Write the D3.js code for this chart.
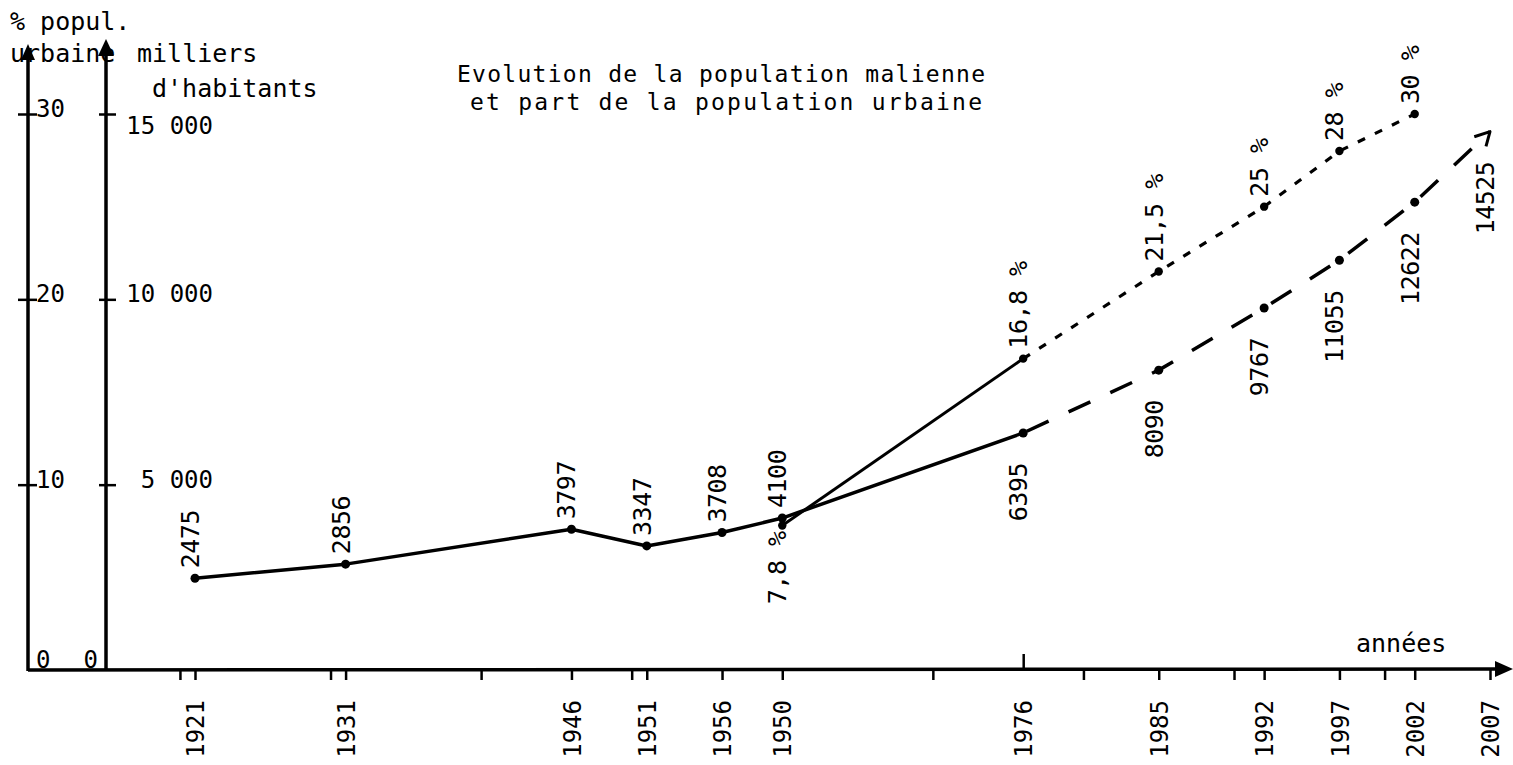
<!DOCTYPE html>
<html><head><meta charset="utf-8">
<script src="https://cdn.jsdelivr.net/npm/d3@7"></script>
<style>
html,body{margin:0;padding:0;background:#fff;}
svg{display:block;}
text{font-family:"DejaVu Sans Mono","Liberation Mono",monospace;fill:#000;}
</style></head><body>
<svg id="chart" width="1513" height="765"></svg>
<script>
// ---------------- data ----------------
const years       = [1921, 1931, 1946, 1951, 1956, 1960, 1976, 1985, 1992, 1997, 2002, 2007];
const yearLabels  = ["1921","1931","1946","1951","1956","1950","1976","1985","1992","1997","2002","2007"];
const decadeTicks = [1920, 1930, 1940, 1950, 1960, 1970, 1980, 1990, 2000];
const population  = [2475, 2856, 3797, 3347, 3708, 4100, 6395, 8090, 9767, 11055, 12622, 14525]; // milliers d'habitants
const popLastObserved = 1976;
const urbanYears  = [1960, 1976, 1985, 1992, 1997, 2002];
const urbanShare  = [7.8, 16.8, 21.5, 25, 28, 30];   // % population urbaine
const urbanLabels = ["7,8 %", "16,8 %", "21,5 %", "25 %", "28 %", "30 %"];
const urbanLastObserved = 1976;
const popTicks      = [0, 5000, 10000, 15000];
const popTickLabels = ["0", "5 000", "10 000", "15 000"];
const pctTicks      = [0, 10, 20, 30];
const pctTickLabels = ["0", "10", "20", "30"];
const titleLines  = ["Evolution de la population malienne", "et part de la population urbaine"];

// ---------------- setup ----------------
const W = 1513, H = 765;
const svg = d3.select("#chart");
const x    = d3.scaleLinear().domain([1921, 2007]).range([195, 1490]);
const yPop = d3.scaleLinear().domain([0, 15000]).range([670, 114]);
const yPct = d3.scaleLinear().domain([0, 30]).range([670, 114]);
const axPct = 28, axPop = 106, base = yPop(0);

const defs = svg.append("defs");
defs.append("marker").attr("id","chev").attr("viewBox","-16 -10 20 20")
  .attr("markerUnits","userSpaceOnUse").attr("markerWidth",20).attr("markerHeight",20)
  .attr("refX",0).attr("refY",0).attr("orient","auto")
  .append("path").attr("d","M-15,-7 L0,0 L-13,8").attr("fill","none")
  .attr("stroke","#000").attr("stroke-width",3).attr("stroke-linejoin","round");

// ---------------- axes ----------------
// x axis (years)
const xTicks = Array.from(new Set(decadeTicks.concat(years))).sort((a,b)=>a-b);
const labelOf = new Map(years.map((y,i)=>[y, yearLabels[i]]));
const gx = svg.append("g").attr("transform",`translate(0,${base})`)
  .call(d3.axisBottom(x).tickValues(xTicks).tickSize(10).tickPadding(0)
        .tickFormat(d => labelOf.has(d) ? labelOf.get(d) : ""));
gx.select(".domain").remove();
gx.selectAll(".tick line").attr("stroke","#000").attr("stroke-width",2.5)
  .attr("y1", d => d === popLastObserved ? -16 : 0)
  .attr("y2", d => d === popLastObserved ? 0 : 10);
gx.selectAll(".tick text").attr("font-family",'"DejaVu Sans Mono",monospace')
  .attr("font-size",24).attr("fill","#000")
  .attr("text-anchor","end").attr("transform","translate(0,30) rotate(-90)")
  .attr("x",0).attr("y",0).attr("dy","0.36em");
svg.append("line").attr("x1",axPct).attr("x2",W-16).attr("y1",base).attr("y2",base-1)
  .attr("stroke","#000").attr("stroke-width",3.5);
svg.append("path").attr("d",`M${W},${base-1} L${W-18},${base-9} L${W-18},${base+7} Z`).attr("fill","#000");
svg.append("text").attr("x",1356).attr("y",652).attr("font-size",25).text("années");

// y axis: % population urbaine
const gPct = svg.append("g").attr("transform",`translate(${axPct},0)`)
  .call(d3.axisRight(yPct).tickValues(pctTicks).tickSize(8).tickFormat((d,i)=>pctTickLabels[i]));
gPct.select(".domain").remove();
gPct.selectAll(".tick line").attr("stroke","#000").attr("stroke-width",2.5)
  .attr("x1",-10).attr("x2",9).style("display", d => d === 0 ? "none" : null);
gPct.selectAll(".tick text").attr("font-family",'"DejaVu Sans Mono",monospace')
  .attr("font-size",24).attr("fill","#000").attr("x",8).attr("dy", d => d === 0 ? "-0.1em" : "0.1em");
svg.append("line").attr("x1",axPct).attr("x2",axPct).attr("y1",base+1).attr("y2",56)
  .attr("stroke","#000").attr("stroke-width",3.5);
svg.append("path").attr("d",`M${axPct},44 L${axPct-7},60 L${axPct+7},60 Z`).attr("fill","#000");

// y axis: milliers d'habitants
const gPop = svg.append("g").attr("transform",`translate(${axPop},0)`)
  .call(d3.axisRight(yPop).tickValues(popTicks).tickSize(8).tickFormat((d,i)=>popTickLabels[i]));
gPop.select(".domain").remove();
gPop.selectAll(".tick line").attr("stroke","#000").attr("stroke-width",2.5)
  .attr("x1",-7).attr("x2",10).style("display", d => d === 0 ? "none" : null);
gPop.selectAll(".tick text").attr("font-family",'"DejaVu Sans Mono",monospace')
  .attr("font-size",24).attr("fill","#000")
  .attr("text-anchor","end").attr("x", d => d === 0 ? -8 : 107)
  .attr("dy", d => d === 0 ? "-0.1em" : (d === 15000 ? "0.8em" : "0.1em"));
svg.append("line").attr("x1",axPop).attr("x2",axPop).attr("y1",base+1).attr("y2",52)
  .attr("stroke","#000").attr("stroke-width",3.5);
svg.append("path").attr("d",`M${axPop},39 L${axPop-8},56 L${axPop+8},56 Z`).attr("fill","#000");

// axis titles
svg.append("text").attr("x",10).attr("y",30).attr("font-size",25).text("% popul.");
svg.append("text").attr("x",10).attr("y",62).attr("font-size",25).text("urbaine");
svg.append("text").attr("x",137).attr("y",62).attr("font-size",25).text("milliers");
svg.append("text").attr("x",152).attr("y",97).attr("font-size",25).text("d'habitants");

// title
const tl = [[457,82,528],[470,110,512]];
titleLines.forEach((t,i)=>{
  svg.append("text").attr("x",tl[i][0]).attr("y",tl[i][1]).attr("font-size",23)
    .attr("textLength",tl[i][2]).attr("lengthAdjust","spacing").text(t);
});

// ---------------- lines ----------------
const popData = years.map((y,i)=>({year:y, v:population[i]}));
const pctData = urbanYears.map((y,i)=>({year:y, v:urbanShare[i], label:urbanLabels[i]}));
const linePop = d3.line().x(d=>x(d.year)).y(d=>yPop(d.v));
const linePct = d3.line().x(d=>x(d.year)).y(d=>yPct(d.v));

svg.append("path").datum(popData.filter(d=>d.year<=popLastObserved)).attr("d",linePop)
  .attr("fill","none").attr("stroke","#000").attr("stroke-width",3.5).attr("stroke-linejoin","round");
svg.append("path").datum(popData.filter(d=>d.year>=popLastObserved)).attr("d",linePop)
  .attr("fill","none").attr("stroke","#000").attr("stroke-width",3.5)
  .attr("stroke-dasharray","24 22").attr("stroke-dashoffset",-4).attr("marker-end","url(#chev)");

svg.append("path").datum(pctData.filter(d=>d.year<=urbanLastObserved)).attr("d",linePct)
  .attr("fill","none").attr("stroke","#000").attr("stroke-width",3);
svg.append("path").datum(pctData.filter(d=>d.year>=urbanLastObserved)).attr("d",linePct)
  .attr("fill","none").attr("stroke","#000").attr("stroke-width",3.2)
  .attr("stroke-dasharray","8 11");

// points
svg.append("g").selectAll("circle").data(popData.slice(0,-1)).join("circle")
  .attr("cx",d=>x(d.year)).attr("cy",d=>yPop(d.v)).attr("r",4.5).attr("fill","#000");
svg.append("g").selectAll("circle").data(pctData).join("circle")
  .attr("cx",d=>x(d.year)).attr("cy",d=>yPct(d.v)).attr("r",4.2).attr("fill","#000");

// ---------------- value labels (rotated) ----------------
function vlabel(px, py, txt, above, off){
  svg.append("text")
    .attr("transform",`translate(${px-5},${above ? py-off : py+off}) rotate(-90)`)
    .attr("text-anchor", above ? "start" : "end")
    .attr("dy","0.36em").attr("font-size",25).attr("letter-spacing",-0.5)
    .text(txt);
}
popData.forEach(d=>{
  const above = d.year <= 1960;
  vlabel(x(d.year), yPop(d.v), String(d.v), above, above ? 10 : 30);
});
pctData.forEach((d,i)=>{
  const above = i > 0;
  vlabel(x(d.year), yPct(d.v), d.label, above, above ? 10 : 6);
});
</script>
</body></html>
